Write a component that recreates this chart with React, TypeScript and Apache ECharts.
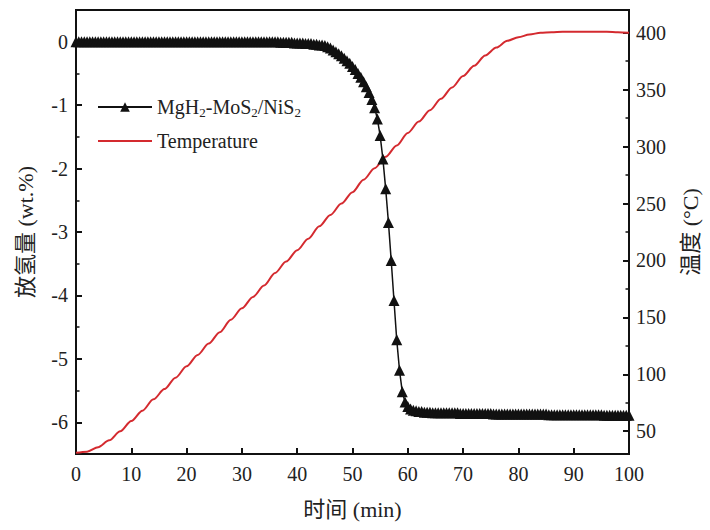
import React, { useEffect, useRef } from "react";
import * as echarts from "echarts";

// Time axis (min) for the hydrogen desorption curve
const timeMin = [
  0, 0.5, 1, 1.5, 2, 2.5, 3, 3.5, 4, 4.5, 5, 5.5, 6, 6.5, 7, 7.5, 8, 8.5, 9, 9.5,
  10, 10.5, 11, 11.5, 12, 12.5, 13, 13.5, 14, 14.5, 15, 15.5, 16, 16.5, 17, 17.5, 18, 18.5, 19, 19.5,
  20, 20.5, 21, 21.5, 22, 22.5, 23, 23.5, 24, 24.5, 25, 25.5, 26, 26.5, 27, 27.5, 28, 28.5, 29, 29.5,
  30, 30.5, 31, 31.5, 32, 32.5, 33, 33.5, 34, 34.5, 35, 35.5, 36, 36.5, 37, 37.5, 38, 38.5, 39, 39.5,
  40, 40.5, 41, 41.5, 42, 42.5, 43, 43.5, 44, 44.5, 45, 45.5, 46, 46.5, 47, 47.5, 48, 48.5, 49, 49.5,
  50, 50.5, 51, 51.5, 52, 52.5, 53, 53.5, 54, 54.5, 55, 55.5, 56, 56.5, 57, 57.5, 58, 58.5, 59, 59.5,
  60, 60.5, 61, 61.5, 62, 62.5, 63, 63.5, 64, 64.5, 65, 65.5, 66, 66.5, 67, 67.5, 68, 68.5, 69, 69.5,
  70, 70.5, 71, 71.5, 72, 72.5, 73, 73.5, 74, 74.5, 75, 75.5, 76, 76.5, 77, 77.5, 78, 78.5, 79, 79.5,
  80, 80.5, 81, 81.5, 82, 82.5, 83, 83.5, 84, 84.5, 85, 85.5, 86, 86.5, 87, 87.5, 88, 88.5, 89, 89.5,
  90, 90.5, 91, 91.5, 92, 92.5, 93, 93.5, 94, 94.5, 95, 95.5, 96, 96.5, 97, 97.5, 98, 98.5, 99, 99.5,
  100,
];

// Hydrogen released (wt.%) — MgH2-MoS2/NiS2
const hydrogenWt = [
  0, 0, 0, 0, 0, 0, 0, 0, 0, 0, 0, 0, 0, 0, 0, 0, 0, 0, 0, 0,
  0, 0, 0, 0, 0, 0, 0, 0, 0, 0, 0, 0, 0, 0, 0, 0, 0, 0, 0, 0,
  0, 0, 0, 0, 0, 0, 0, 0, 0, 0, 0, 0, 0, 0, 0, 0, 0, 0, 0, 0,
  0, 0, 0, 0, 0, 0, 0, 0, 0, 0, 0, 0, 0, 0, -0.01, -0.01, -0.01, -0.01, -0.01, -0.02,
  -0.02, -0.02, -0.02, -0.03, -0.03, -0.03, -0.04, -0.04, -0.05, -0.05, -0.06, -0.08, -0.1, -0.13, -0.16, -0.19, -0.22, -0.26, -0.3, -0.34,
  -0.39, -0.44, -0.5, -0.56, -0.63, -0.71, -0.8, -0.91, -1.04, -1.22, -1.48, -1.85, -2.32, -2.85, -3.45, -4.08, -4.7, -5.18, -5.52, -5.68,
  -5.75, -5.79, -5.81, -5.82, -5.83, -5.83, -5.84, -5.84, -5.84, -5.85, -5.85, -5.85, -5.85, -5.85, -5.85, -5.85, -5.85, -5.85, -5.85, -5.86,
  -5.86, -5.86, -5.86, -5.86, -5.86, -5.86, -5.86, -5.86, -5.86, -5.86, -5.86, -5.87, -5.87, -5.87, -5.87, -5.87, -5.87, -5.87, -5.87, -5.87,
  -5.87, -5.87, -5.87, -5.87, -5.87, -5.87, -5.87, -5.87, -5.87, -5.87, -5.87, -5.88, -5.88, -5.88, -5.88, -5.88, -5.88, -5.88, -5.88, -5.88,
  -5.88, -5.88, -5.88, -5.88, -5.88, -5.88, -5.88, -5.88, -5.88, -5.88, -5.88, -5.89, -5.89, -5.89, -5.89, -5.89, -5.89, -5.89, -5.89, -5.89,
  -5.89,
];

// Temperature curve (°C)
const tempTime = [
  0, 2, 4, 6, 8, 10, 12, 14, 16, 18, 20, 22, 24, 26, 28, 30, 32, 34, 36, 38, 40,
  42, 44, 46, 48, 50, 52, 54, 56, 58, 60, 62, 64, 66, 68, 70, 72, 74, 76, 78, 80,
  82, 84, 86, 88, 90, 92, 94, 96, 98, 100,
];
const tempC = [
  31, 32, 36, 42, 50, 59, 68, 78, 87, 97, 107, 117, 127, 137, 148, 158, 168, 178, 189, 199, 209,
  219, 230, 240, 250, 260, 271, 281, 291, 301, 312, 322, 332, 342, 352, 362, 371, 380, 387, 393, 396,
  398.5, 400, 400.5, 401, 401, 401, 401, 401, 400.5, 400,
];

// Tick labels
const leftTicks = [-6, -5, -4, -3, -2, -1, 0];
const leftMinorTicks = [-5.5, -4.5, -3.5, -2.5, -1.5, -0.5];
const rightTicks = [50, 100, 150, 200, 250, 300, 350, 400];
const rightMinorTicks = [75, 125, 175, 225, 275, 325, 375];

const seriesNames = ["MgH2-MoS2/NiS2", "Temperature"];

const FONT = "'Liberation Serif', 'Times New Roman', 'Noto Sans CJK SC', serif";
const TEXT = "#222";
const RED = "#d42a2f";

export default function App() {
  const ref = useRef<HTMLDivElement>(null);

  useEffect(() => {
    if (!ref.current) return;
    const chart = echarts.init(ref.current, undefined, { renderer: "svg" });

    const hData = timeMin.map((t, i) => [t, hydrogenWt[i]]);
    const tData = tempTime.map((t, i) => [t, tempC[i]]);

    const baseY = {
      type: "value" as const,
      splitLine: { show: false },
      axisLine: { show: false },
      axisLabel: { show: false },
    };

    chart.setOption({
      animation: false,
      backgroundColor: "#fff",
      textStyle: { fontFamily: FONT },
      grid: {
        left: 76,
        right: 81,
        top: 10,
        bottom: 76,
        show: true,
        borderColor: "#111",
        borderWidth: 2,
        backgroundColor: "transparent",
      },
      legend: {
        orient: "vertical",
        left: 97,
        top: 97,
        padding: 0,
        itemWidth: 54,
        itemHeight: 12,
        itemGap: 12,
        data: [
          { name: seriesNames[0] },
          { name: seriesNames[1], itemStyle: { opacity: 0 }, lineStyle: { color: RED, width: 2, opacity: 1 } },
        ],
        formatter: (name: string) =>
          name === seriesNames[0]
            ? "{a|MgH}{b|2}{a|-MoS}{b|2}{a|/NiS}{b|2}"
            : "{a|" + name + "}",
        textStyle: {
          fontFamily: FONT,
          color: TEXT,
          rich: {
            a: { fontFamily: FONT, fontSize: 20, color: TEXT, lineHeight: 24 },
            b: { fontFamily: FONT, fontSize: 13, color: TEXT, lineHeight: 13, verticalAlign: "bottom" },
          },
        },
      },
      xAxis: {
        type: "value",
        min: 0,
        max: 100,
        interval: 10,
        name: "时间 (min)",
        nameLocation: "middle",
        nameGap: 44,
        nameTextStyle: { fontFamily: FONT, fontSize: 22, color: TEXT },
        axisLine: { show: true, onZero: false, lineStyle: { color: "#111", width: 2 } },
        axisTick: { inside: true, length: 6, lineStyle: { color: "#111", width: 2 } },
        axisLabel: { fontFamily: FONT, fontSize: 20, color: TEXT, margin: 10 },
        splitLine: { show: false },
      },
      yAxis: [
        {
          type: "value",
          position: "left",
          min: -6.5,
          max: 0.5,
          name: "放氢量 (wt.%)",
          nameLocation: "middle",
          nameRotate: 90,
          nameGap: 40,
          nameTextStyle: { fontFamily: FONT, fontSize: 22, color: TEXT },
          axisLine: { show: true, onZero: false, lineStyle: { color: "#111", width: 2 } },
          axisTick: { show: true, inside: true, length: 6, customValues: leftTicks, lineStyle: { color: "#111", width: 2 } },
          axisLabel: { show: true, customValues: leftTicks, fontFamily: FONT, fontSize: 20, color: TEXT, margin: 8 },
          splitLine: { show: false },
        },
        {
          type: "value",
          position: "right",
          min: 30,
          max: 420,
          name: "温度 (°C)",
          nameLocation: "middle",
          nameRotate: 90,
          nameGap: 50,
          nameTextStyle: { fontFamily: FONT, fontSize: 22, color: TEXT },
          axisLine: { show: true, onZero: false, lineStyle: { color: "#111", width: 2 } },
          axisTick: { show: true, inside: true, length: 6, customValues: rightTicks, lineStyle: { color: "#111", width: 2 } },
          axisLabel: { show: true, customValues: rightTicks, fontFamily: FONT, fontSize: 20, color: TEXT, margin: 7 },
          splitLine: { show: false },
        },
        {
          ...baseY,
          position: "left",
          min: -6.5,
          max: 0.5,
          axisTick: { show: true, inside: true, length: 3.5, customValues: leftMinorTicks, lineStyle: { color: "#111", width: 1.5 } },
        },
        {
          ...baseY,
          position: "right",
          min: 30,
          max: 420,
          axisTick: { show: true, inside: true, length: 3.5, customValues: rightMinorTicks, lineStyle: { color: "#111", width: 1.5 } },
        },
      ],
      series: [
        {
          name: seriesNames[1],
          type: "line",
          yAxisIndex: 1,
          data: tData,
          symbol: "none",
          smooth: 0.3,
          smoothMonotone: "x",
          lineStyle: { color: RED, width: 2 },
          itemStyle: { color: RED },
          z: 2,
        },
        {
          name: seriesNames[0],
          type: "line",
          yAxisIndex: 0,
          data: hData,
          symbol: "triangle",
          symbolSize: 11,
          showAllSymbol: true,
          lineStyle: { color: "#111", width: 1.5 },
          itemStyle: { color: "#111" },
          z: 3,
        },
      ],
    });

    return () => chart.dispose();
  }, []);

  return (
    <div
      ref={ref}
      style={{ position: "fixed", left: 0, top: 0, width: 710, height: 530, background: "#fff" }}
    />
  );
}
